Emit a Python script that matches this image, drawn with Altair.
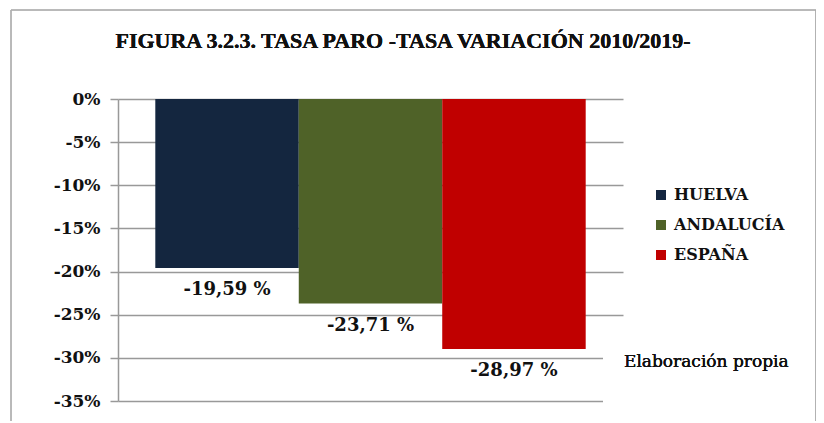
import altair as alt
import pandas as pd

regions = ["HUELVA", "ANDALUCÍA", "ESPAÑA"]
values = [-19.59, -23.71, -28.97]
colors = ["#14263F", "#4F6228", "#C00000"]
y_ticks = [0, -5, -10, -15, -20, -25, -30, -35]
title_text = "FIGURA 3.2.3. TASA PARO  -TASA VARIACIÓN 2010/2019-"
note_text = "Elaboración propia"

df = pd.DataFrame({"region": regions, "value": values})

W, H = 505, 302

x_enc = alt.X("region:N", sort=regions, axis=None,
              scale=alt.Scale(paddingInner=0, paddingOuter=0.26))
y_scale = alt.Scale(domain=[-35, 0], nice=False)

bars = alt.Chart(df).mark_bar().encode(
    x=x_enc,
    y=alt.Y("value:Q", scale=y_scale, title=None,
            axis=alt.Axis(values=y_ticks, labelExpr="datum.value + '%'",
                          labelFont="DejaVu Serif", labelFontWeight="bold",
                          labelFontSize=17, labelColor="#111111", labelPadding=10,
                          grid=True, gridColor="#999999", gridWidth=1.5,
                          domainColor="#999999", domainWidth=1.5,
                          tickColor="#999999", tickWidth=1.5, tickSize=8)),
    y2=alt.datum(0),
    color=alt.Color("region:N", sort=regions,
                    scale=alt.Scale(domain=regions, range=colors),
                    legend=alt.Legend(title=None, orient="none", legendX=535, legendY=88,
                                      symbolType="square", symbolSize=100,
                                      symbolStrokeWidth=0, labelFont="DejaVu Serif",
                                      labelFontWeight="bold", labelFontSize=16,
                                      labelColor="#111111", labelOffset=5,
                                      rowPadding=14)),
)

labels = alt.Chart(df).transform_calculate(
    lab="replace(replace(format(datum.value, '.2f'), '.', ','), '\u2212', '-') + ' %'"
).mark_text(font="DejaVu Serif", fontWeight="bold", fontSize=18, dy=22,
            baseline="middle", color="#111111").encode(
    x=x_enc,
    y=alt.Y("value:Q", scale=y_scale),
    text="lab:N",
)

cover = alt.Chart(df).mark_rect(color="white").encode(
    x=alt.value(485), x2=alt.value(520), y=alt.value(240), y2=alt.value(312)
)

note = alt.Chart(df).mark_text(font="DejaVu Serif", fontSize=17, align="left",
                               baseline="middle", color="#111111").encode(
    x=alt.value(506), y=alt.value(263), text=alt.value(note_text)
)

title = alt.Chart(df).mark_text(font="Liberation Serif", fontSize=22, fontWeight="bold",
                                align="center", baseline="alphabetic",
                                color="#111111").encode(
    x=alt.value(285), y=alt.value(-51), text=alt.value(title_text)
)

frame = alt.Chart(df).mark_rect(fill=None, stroke="#b0b0b0", strokeWidth=1).encode(
    x=alt.value(-107), x2=alt.value(699), y=alt.value(-89), y2=alt.value(340)
)
right_edge = alt.Chart(df).mark_rule(color="#a8a8a8", strokeWidth=3).encode(
    x=alt.value(699), y=alt.value(-89), y2=alt.value(340)
)

chart = alt.layer(frame, right_edge, bars, cover, labels, note, title).properties(
    width=W, height=H,
    padding={"left": 110, "top": 91, "right": 193, "bottom": 20},
    autosize=alt.AutoSizeParams(type="none"),
).configure_view(stroke=None)

chart.save("out.html", embed_options={"renderer": "svg", "actions": False})
